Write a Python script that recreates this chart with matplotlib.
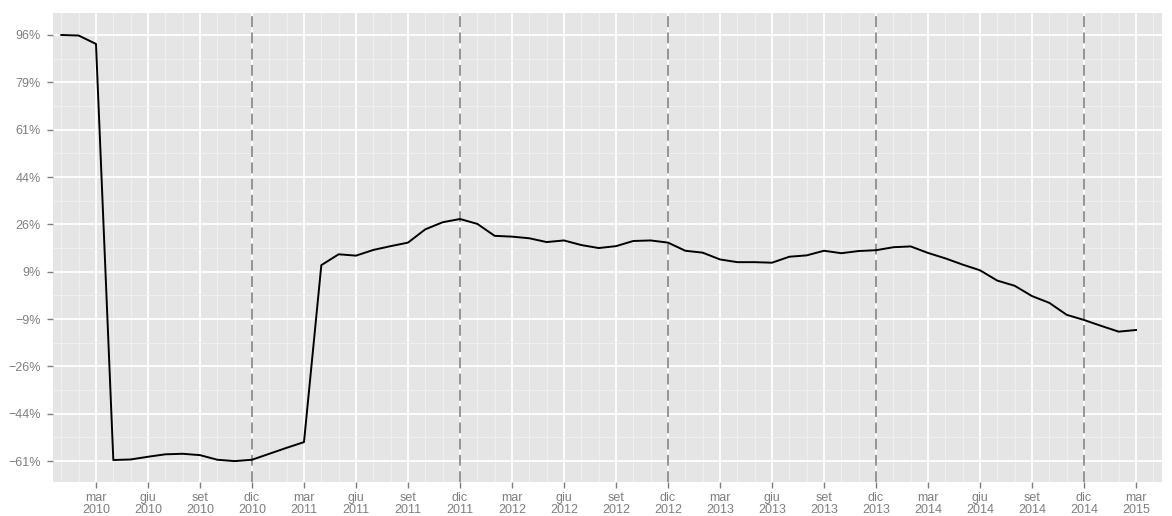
import numpy as np
import matplotlib
matplotlib.use('Agg')
import matplotlib.pyplot as plt

# monthly values, Jan 2010 .. Mar 2015 (percent)
values = [96.0, 95.8, 92.7, -60.6, -60.4, -59.4, -58.5, -58.3, -58.8, -60.5, -61.0, -60.5,
          -58.3, -56.1, -54.0, 11.2, 15.2, 14.7, 16.8, 18.2, 19.5, 24.4, 27.0, 28.2,
          26.4, 22.0, 21.7, 21.1, 19.7, 20.3, 18.6, 17.5, 18.2, 20.1, 20.3, 19.5,
          16.5, 15.8, 13.3, 12.3, 12.3, 12.1, 14.3, 14.8, 16.5, 15.6, 16.4, 16.7,
          17.8, 18.1, 15.7, 13.7, 11.4, 9.3, 5.5, 3.6, -0.2, -2.7, -7.1, -9.0,
          -11.2, -13.3, -12.7]
months = np.arange(len(values))

month_names = {2: 'mar', 5: 'giu', 8: 'set', 11: 'dic'}
start_year = 2010
dec_marks = [11, 23, 35, 47, 59]

y_ticks = np.linspace(-61, 96, 10)
y_labels = ['\u221261%', '\u221244%', '\u221226%', '\u22129%', '9%', '26%', '44%', '61%', '79%', '96%']

plt.rcParams['font.family'] = ['Liberation Sans', 'DejaVu Sans']

fig = plt.figure(figsize=(11.72, 5.16), dpi=100)
ax = fig.add_axes([53 / 1172, 1 - 482 / 516, (1162 - 53) / 1172, (482 - 13) / 516])
ax.set_facecolor('#E5E5E5')
for s in ax.spines.values():
    s.set_visible(False)

ax.set_xlim(-0.48, 63.5)
ax.set_ylim(-68.7, 104.1)

x_major = [m for m in range(0, 64) if m % 12 in month_names]
x_minor = [m for m in range(0, 64) if m % 12 not in month_names]
x_labels = ['%s\n%d' % (month_names[m % 12], start_year + m // 12) for m in x_major]

ax.set_xticks(x_major)
ax.set_xticklabels(x_labels, linespacing=1.0)
ax.set_xticks(x_minor, minor=True)
ax.set_yticks(y_ticks)
ax.set_yticklabels(y_labels)
y_step = y_ticks[1] - y_ticks[0]
ax.set_yticks(y_ticks[:-1] + y_step / 2, minor=True)

ax.grid(which='major', color='white', linewidth=1.3)
ax.grid(which='minor', color='#F2F2F2', linewidth=0.6)
ax.set_axisbelow(True)

ax.tick_params(which='major', length=4, width=1, color='#7F7F7F', labelcolor='#7F7F7F',
               labelsize=9)
ax.tick_params(axis='x', pad=3)
ax.tick_params(axis='y', pad=5)
ax.tick_params(which='minor', length=0)

for m in dec_marks:
    ax.axvline(m, color='#8C8C8C', linewidth=1.3, linestyle=(0, (6, 3)), zorder=2)

ax.plot(months, values, color='black', linewidth=1.4, zorder=3)

fig.savefig('out.png', dpi=100)
